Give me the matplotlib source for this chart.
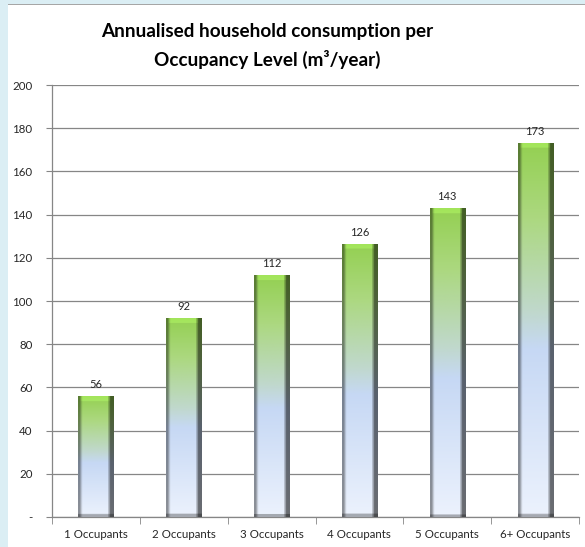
import numpy as np
import matplotlib
matplotlib.use("Agg")
from matplotlib import pyplot as plt
from matplotlib.patches import Rectangle

categories = ["1 Occupants", "2 Occupants", "3 Occupants", "4 Occupants", "5 Occupants", "6+ Occupants"]
values = [56, 92, 112, 126, 143, 173]
y_ticks = [0, 20, 40, 60, 80, 100, 120, 140, 160, 180, 200]
y_labels = ["-"] + [str(t) for t in y_ticks[1:]]

plt.rcParams['font.family'] = ['Lato', 'DejaVu Sans']

W, H = 585, 547
fig = plt.figure(figsize=(W / 100, H / 100), dpi=100)
fig.patch.set_facecolor("#dbeef4")
# white chart area with grey top border
fig.patches.append(Rectangle((8 / W, 0), 1, 1 - 5 / H, transform=fig.transFigure,
                             facecolor="white", edgecolor="none", zorder=-10))
fig.patches.append(Rectangle((8 / W, 1 - 5 / H), 1, 1.2 / H, transform=fig.transFigure,
                             facecolor="#a6a6a6", edgecolor="none", zorder=-10))

ax = fig.add_axes([52 / W, 1 - 517 / H, 527 / W, 432 / H])
ax.set_facecolor("none")

x = np.arange(len(categories))
bw = 0.40

# vertical colour stops (fraction of bar height, 0 = bottom)
stops = [
    (0.0, np.array([236, 242, 253]) / 255),
    (0.45, np.array([198, 216, 244]) / 255),
    (0.55, np.array([192, 216, 204]) / 255),
    (0.8, np.array([172, 216, 128]) / 255),
    (1.0, np.array([148, 208, 82]) / 255),
]

ny, nx = 240, 70
t = np.linspace(0, 1, ny)
col = np.zeros((ny, 3))
for i in range(ny):
    f = t[i]
    for (a, ca), (b, cb) in zip(stops[:-1], stops[1:]):
        if a <= f <= b:
            w = (f - a) / (b - a)
            col[i] = ca * (1 - w) + cb * w
            break

# horizontal shading: bevels on left/right
u = np.linspace(0, 1, nx)
shade = np.ones(nx)
shade[u < 0.07] = 0.6
shade[(u >= 0.07) & (u < 0.11)] = 0.85
shade[u > 0.89] = 0.45
shade[(u > 0.85) & (u <= 0.89)] = 0.72

for xi, v in zip(x, values):
    img = col[:, None, :] * shade[None, :, None]
    px = v * 2.16
    # light top bevel and darker bottom bevel
    top_rows = max(2, int(round(ny * 5.0 / px)))
    img[-top_rows:, 5:-7, :] = np.clip(img[-top_rows:, 5:-7, :] * 1.1, 0, 1)
    bot_rows = max(2, int(round(ny * 3.0 / px)))
    img[:bot_rows, :, :] = img[:bot_rows, :, :] * 0.7
    ax.imshow(img[::-1], extent=(xi - bw / 2, xi + bw / 2, 0, v), aspect="auto",
              interpolation="bilinear", zorder=3)
    ax.text(xi, v + 3, str(v), ha="center", va="bottom", fontsize=8, color="#262626", zorder=4)

ax.set_aspect("auto")
ax.set_xlim(-0.5, len(categories) - 0.5)
ax.set_ylim(0, 200)

ax.set_yticks(y_ticks)
ax.set_yticklabels(y_labels, fontsize=8.3, color="#262626")
ax.set_xticks(x)
ax.set_xticklabels(categories, fontsize=8.3, color="#262626")
ax.tick_params(axis="x", length=0, pad=9)
ax.set_xticks(np.arange(len(categories) + 1) - 0.5, minor=True)
ax.tick_params(axis="x", which="minor", length=5, color="#868686")
ax.tick_params(axis="y", length=4, color="#868686", pad=10)
ax.yaxis.grid(True, color="#868686", linewidth=0.9)
ax.set_axisbelow(True)
for s in ["top", "right"]:
    ax.spines[s].set_visible(False)
for s in ["left", "bottom"]:
    ax.spines[s].set_color("#868686")
    ax.spines[s].set_linewidth(0.9)

fig.text(267 / W, 1 - 31 / H, "Annualised household consumption per", ha="center", va="center",
         fontsize=13.6, fontweight="bold", color="black")
fig.text(267 / W, 1 - 59 / H, "Occupancy Level (m\u00b3/year)", ha="center", va="center",
         fontsize=13.6, fontweight="bold", color="black")

fig.savefig("out.png", dpi=100, facecolor=fig.get_facecolor())
